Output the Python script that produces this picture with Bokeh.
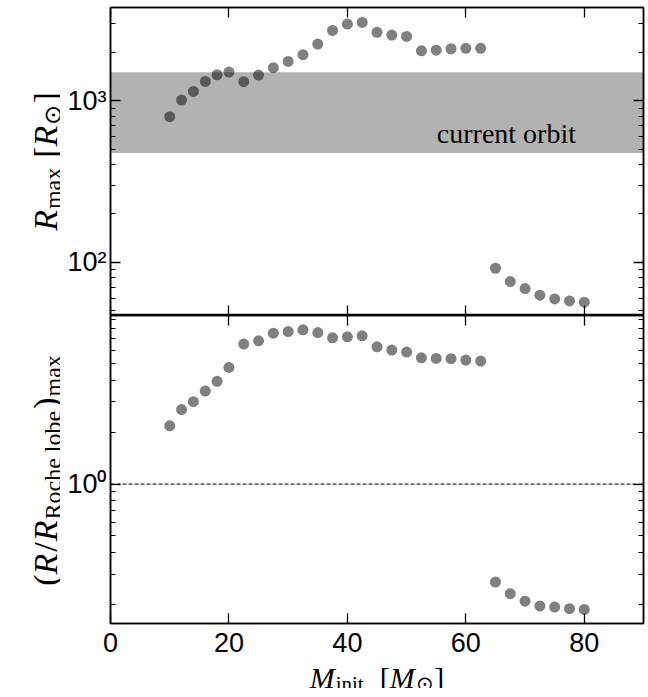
import math
from bokeh.plotting import figure
from bokeh.models import Range1d, FixedTicker, LinearAxis, LogAxis, BoxAnnotation, Span, Label, ColumnDataSource
from bokeh.layouts import column, row
from bokeh.core.properties import value
from bokeh.embed import file_html
from bokeh.resources import INLINE

# ---------------- data ----------------
masses = [10, 12, 14, 16, 18, 20, 22.5, 25, 27.5, 30, 32.5, 35, 37.5, 40, 42.5,
          45, 47.5, 50, 52.5, 55, 57.5, 60, 62.5, 65, 67.5, 70, 72.5, 75, 77.5, 80]
r_max = [796, 1009, 1142, 1317, 1448, 1504, 1312, 1442, 1600, 1750, 1926, 2243, 2725, 2980, 3052,
         2650, 2549, 2500, 2036, 2056, 2097, 2110, 2110, 91.8, 75.9, 68.7, 62.5, 59.3, 57.6, 56.6]
r_ratio = [2.18, 2.71, 3.01, 3.47, 3.95, 4.76, 6.50, 6.79, 7.52, 7.69, 7.87, 7.59, 7.07, 7.17, 7.26,
           6.27, 6.00, 5.84, 5.41, 5.37, 5.35, 5.25, 5.18, 0.270, 0.231, 0.209, 0.196, 0.193, 0.189, 0.187]
orbit_low = 475
orbit_high = 1500
orbit_text = "current orbit"
orbit_text_pos = (55.1, 630)
roche_level = 1.0

x_lim = (0, 90)
top_lim = (46.8, 3776)
bot_lim = (0.155, 9.53)
x_ticks = [0, 20, 40, 60, 80]
top_major = [100, 1000]
top_minor = [50, 60, 70, 80, 90, 200, 300, 400, 500, 600, 700, 800, 900, 2000, 3000]
bot_major = [1]
bot_minor = [0.2, 0.3, 0.4, 0.5, 0.6, 0.7, 0.8, 0.9, 2, 3, 4, 5, 6, 7, 8, 9]

SUP = {"-": "\u207b", "0": "\u2070", "1": "\u00b9", "2": "\u00b2", "3": "\u00b3",
       "4": "\u2074", "5": "\u2075", "6": "\u2076", "7": "\u2077", "8": "\u2078", "9": "\u2079"}


def pow_label(v):
    e = int(round(math.log10(v)))
    return "10" + "".join(SUP[c] for c in str(e))


# Times / Liberation Serif advance widths (per em)
W_REG = {" ": .25, "(": .333, ")": .333, "/": .278, "[": .333, "]": .333, "R": .667, "o": .5,
         "c": .444, "h": .5, "e": .444, "l": .278, "b": .5, "m": .778, "a": .444, "x": .5,
         "i": .278, "n": .5, "t": .278, "M": .889, "\u2299": .84}
W_IT = {"R": .611, "M": .833}


def text_w(s, size, style):
    tab = W_IT if style == "italic" else W_REG
    return sum(tab.get(c, W_REG.get(c, .5)) for c in s) * size


# ---------------- layout geometry (px) ----------------
LAB_W = 60
BORDER_L = 50
FRAME_W = 533
BORDER_R = 3
TOP_B = 7
FRAME_H1 = 308
FRAME_H2 = 308
XLAB_H = 34
TOTAL_H = 694


def style_axis(ax, labels, standoff=0):
    ax.major_tick_in = 10
    ax.major_tick_out = 0
    ax.minor_tick_in = 5
    ax.minor_tick_out = 0
    ax.major_tick_line_width = 1.3
    ax.minor_tick_line_width = 1.1
    ax.major_tick_line_color = "black"
    ax.minor_tick_line_color = "black"
    ax.axis_line_color = "black"
    ax.axis_line_width = 1.5
    if labels:
        ax.major_label_text_font = "Liberation Sans"
        ax.major_label_text_font_size = "27px"
        ax.major_label_text_color = "black"
        ax.major_label_standoff = standoff
    else:
        ax.major_label_text_font_size = "1px"
        ax.major_label_text_color = None
        ax.major_label_standoff = 0


def make_fig(ylim, fh, mbt, mbb):
    p = figure(frame_width=FRAME_W, frame_height=fh, x_range=Range1d(*x_lim), y_range=Range1d(*ylim),
               y_axis_type="log", output_backend="svg", toolbar_location=None,
               min_border_left=BORDER_L, min_border_right=BORDER_R, min_border_top=mbt,
               min_border_bottom=mbb)
    p.xgrid.visible = False
    p.ygrid.visible = False
    p.outline_line_color = "black"
    p.outline_line_width = 1.5
    p.background_fill_color = "white"
    p.border_fill_color = "white"
    return p


def add_axes(p, major, minor, xlabels):
    p.xaxis.ticker = FixedTicker(ticks=x_ticks, minor_ticks=[])
    style_axis(p.xaxis[0], xlabels, 9)
    p.yaxis.ticker = FixedTicker(ticks=major, minor_ticks=minor)
    style_axis(p.yaxis[0], True, 4)
    p.yaxis.major_label_overrides = {v: pow_label(v) for v in major}
    top = LinearAxis(ticker=FixedTicker(ticks=x_ticks, minor_ticks=[]))
    style_axis(top, False)
    p.add_layout(top, "above")
    right = LogAxis(ticker=FixedTicker(ticks=major, minor_ticks=minor))
    style_axis(right, False)
    p.add_layout(right, "right")


def text_fig(w, h, bl=0, br=0):
    q = figure(frame_width=w, frame_height=h, x_range=Range1d(0, w), y_range=Range1d(0, h),
               min_border_left=bl, min_border_right=br, min_border_top=0, min_border_bottom=0,
               toolbar_location=None, output_backend="svg",
               x_axis_location=None, y_axis_location=None, title=None)
    q.outline_line_color = None
    q.xgrid.visible = False
    q.ygrid.visible = False
    q.background_fill_color = "white"
    q.border_fill_color = "white"
    return q


def piece_source(pieces, along_center, base, rotated):
    total = sum(pre + text_w(t, s, st) for t, s, st, sh, pre in pieces)
    pos = along_center - total / 2
    xs, ys, texts, sizes, styles = [], [], [], [], []
    for t, s, st, sh, pre in pieces:
        pos += pre
        if rotated:
            xs.append(base + sh)
            ys.append(pos)
        else:
            xs.append(pos)
            ys.append(base - sh)
        texts.append(t)
        sizes.append(f"{s}px")
        styles.append(st)
        pos += text_w(t, s, st)
    return ColumnDataSource(dict(x=xs, y=ys, text=texts, size=sizes, style=styles))


F, f = 34, 24
ODOT = "\u2299"

# ---------------- top panel ----------------
p1 = make_fig(top_lim, FRAME_H1, TOP_B, 0)
p1.scatter(masses, r_max, size=11, fill_color="#808080", line_color=None)
p1.add_layout(BoxAnnotation(bottom=orbit_low, top=orbit_high, fill_color="black",
                            fill_alpha=0.3, line_color=None))
p1.add_layout(Label(x=orbit_text_pos[0], y=orbit_text_pos[1], text=orbit_text,
                    text_font="Liberation Serif", text_font_size="28px", text_color="black",
                    text_baseline="alphabetic", text_align="left"))
add_axes(p1, top_major, top_minor, False)

# ---------------- bottom panel ----------------
p2 = make_fig(bot_lim, FRAME_H2, 0, 0)
p2.scatter(masses, r_ratio, size=11, fill_color="#808080", line_color=None)
p2.add_layout(Span(location=roche_level, dimension="width", line_color="black",
                   line_width=1, line_dash="4 2"))
add_axes(p2, bot_major, bot_minor, True)

# ---------------- axis titles (real text, built from pieces) ----------------
ylab = text_fig(LAB_W, TOTAL_H)
top_center = TOTAL_H - (TOP_B + FRAME_H1 / 2)
bot_center = TOTAL_H - (TOP_B + FRAME_H1 + 1 + FRAME_H2 / 2)
src_top = piece_source([("R", F, "italic", 0, 0), ("max", f, "normal", 7, 1),
                        ("[", F, "normal", 0, 10), ("R", F, "italic", 0, 0), (ODOT, f, "normal", 7, 1),
                        ("]", F, "normal", 0, 1)], top_center, 45, True)
src_bot = piece_source([("(", F, "normal", 0, 0), ("R", F, "italic", 0, 0), ("/", F, "normal", 0, 2),
                        ("R", F, "italic", 0, 1), ("Roche lobe", f, "normal", 7, 1),
                        (")", F, "normal", 0, 2), ("max", f, "normal", 7, 1)], bot_center, 45, True)
for src in (src_top, src_bot):
    ylab.text(x="x", y="y", text="text", source=src, angle=math.pi / 2,
              text_font=value("Liberation Serif"), text_font_size="size", text_font_style="style",
              text_align="left", text_baseline="alphabetic", text_color="black")

xlab = text_fig(FRAME_W, XLAB_H, BORDER_L, BORDER_R)
src_x = piece_source([("M", 30, "italic", 0, 0), ("init", 21, "normal", 6, 1),
                      ("[", 30, "normal", 0, 16), ("M", 30, "italic", 0, 0), (ODOT, 21, "normal", 6, 1),
                      ("]", 30, "normal", 0, 1)], FRAME_W / 2, 11, False)
xlab.text(x="x", y="y", text="text", source=src_x,
          text_font=value("Liberation Serif"), text_font_size="size", text_font_style="style",
          text_align="left", text_baseline="alphabetic", text_color="black")

layout = row(ylab, column(p1, p2, xlab))
open("out.html", "w").write(file_html(layout, INLINE))
